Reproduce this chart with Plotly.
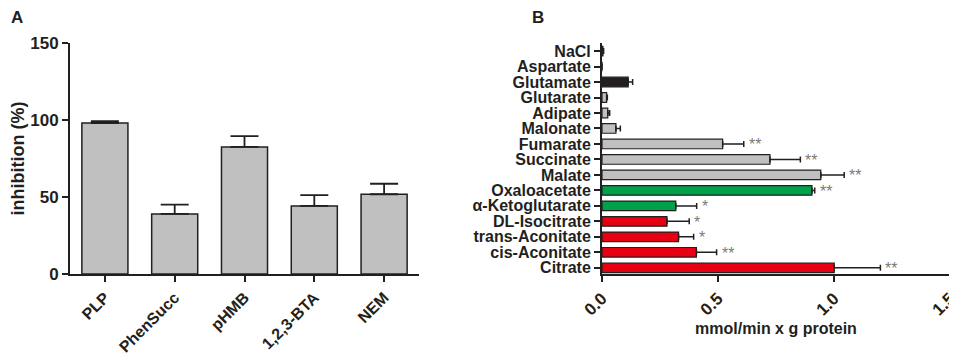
import plotly.graph_objects as go

# Panel A data
a_cats = ["PLP", "PhenSucc", "pHMB", "1,2,3-BTA", "NEM"]
a_vals = [98.0, 39.0, 82.5, 44.2, 51.8]
a_errs = [1.2, 6.0, 7.0, 7.0, 6.8]

# Panel B data (top to bottom)
b_cats = ["NaCl", "Aspartate", "Glutamate", "Glutarate", "Adipate", "Malonate",
          "Fumarate", "Succinate", "Malate", "Oxaloacetate", "α-Ketoglutarate",
          "DL-Isocitrate", "trans-Aconitate", "cis-Aconitate", "Citrate"]
b_vals = [0.004, 0.0, 0.113, 0.020, 0.025, 0.060, 0.520, 0.724, 0.943, 0.905,
          0.318, 0.280, 0.330, 0.407, 1.001]
b_errs = [0.003, 0.0, 0.019, 0.003, 0.008, 0.019, 0.091, 0.131, 0.101, 0.012,
          0.090, 0.096, 0.065, 0.087, 0.199]
b_sig = ["", "", "", "", "", "", "**", "**", "**", "**", "*", "*", "*", "**", "**"]
b_colors = ["#c0c0c0", "#c0c0c0", "#231f20", "#c0c0c0", "#c0c0c0", "#c0c0c0",
            "#c0c0c0", "#c0c0c0", "#c0c0c0", "#00a14b", "#00a14b",
            "#e60012", "#e60012", "#e60012", "#e60012"]

OFF = 8  # page body margin
W, H = 957 - OFF, 361 - OFF
DARK = "#231f20"
FONT = "Liberation Sans, Arial, sans-serif"

fig = go.Figure()
fig.add_trace(go.Bar(
    x=a_cats, y=a_vals, width=0.66,
    marker=dict(color="#c0c0c0", line=dict(color=DARK, width=1.5)),
    error_y=dict(type="data", symmetric=False, array=a_errs,
                 arrayminus=[0] * len(a_errs), color=DARK, thickness=1.8, width=14),
    xaxis="x", yaxis="y", showlegend=False,
))
fig.add_trace(go.Bar(
    y=b_cats, x=b_vals, orientation="h", width=0.62,
    marker=dict(color=b_colors, line=dict(color=DARK, width=1.2)),
    error_x=dict(type="data", symmetric=False, array=b_errs,
                 arrayminus=[0] * len(b_errs), color=DARK, thickness=1.5, width=3),
    xaxis="x2", yaxis="y2", showlegend=False,
))

for c, v, e, s in zip(b_cats, b_vals, b_errs, b_sig):
    if s:
        fig.add_annotation(x=v + e, y=c, xref="x2", yref="y2", text=s,
                           showarrow=False, xanchor="left", yanchor="middle",
                           xshift=3, yshift=-1,
                           font=dict(family=FONT, size=16, color="#7a7a7a"))

def px(x):
    return (x - OFF) / W

def py(y):
    return (H - (y - OFF)) / H

def axis_common(size=17):
    return dict(showline=True, linewidth=2, linecolor=DARK, ticks="outside",
                ticklen=6, tickwidth=2, tickcolor=DARK, showgrid=False,
                zeroline=False, automargin=False, ticklabeloverflow="allow",
                tickfont=dict(family=FONT, size=size, color=DARK, weight="bold"))

fig.update_layout(
    width=W, height=H,
    margin=dict(l=0, r=0, t=0, b=0, autoexpand=False),
    plot_bgcolor="white", paper_bgcolor="white",
    bargap=0.3,
    xaxis=dict(domain=[px(70), px(419)], anchor="y", type="category",
               range=[-0.5, 4.5], tickangle=-45, **axis_common(16)),
    yaxis=dict(domain=[py(274), py(43)], anchor="x", range=[0, 150],
               tickvals=[0, 50, 100, 150],
               title=dict(text="inhibition (%)", standoff=6,
                          font=dict(family=FONT, size=18, color=DARK, weight="bold")),
               **axis_common(17)),
    xaxis2=dict(domain=[px(602), px(950)], anchor="y2", range=[0, 1.5],
                tickvals=[0, 0.5, 1.0, 1.5], ticktext=["0.0", "0.5", "1.0", "1.5"],
                tickangle=-45,
                title=dict(text="mmol/min x g protein", standoff=4,
                           font=dict(family=FONT, size=16, color=DARK, weight="bold")),
                **axis_common(17)),
    yaxis2=dict(domain=[py(274), py(43)], anchor="x2", type="category",
                categoryorder="array", categoryarray=b_cats,
                tickmode="array", tickvals=b_cats,
                range=[14.4, -0.52], **axis_common(16)),
)

fig.add_annotation(x=px(9), y=py(17), xref="paper", yref="paper", text="A",
                   showarrow=False, xanchor="left", yanchor="middle",
                   font=dict(family=FONT, size=17, color=DARK, weight="bold"))
fig.add_annotation(x=px(530), y=py(17), xref="paper", yref="paper", text="B",
                   showarrow=False, xanchor="left", yanchor="middle",
                   font=dict(family=FONT, size=17, color=DARK, weight="bold"))

fig.write_html("out.html")
